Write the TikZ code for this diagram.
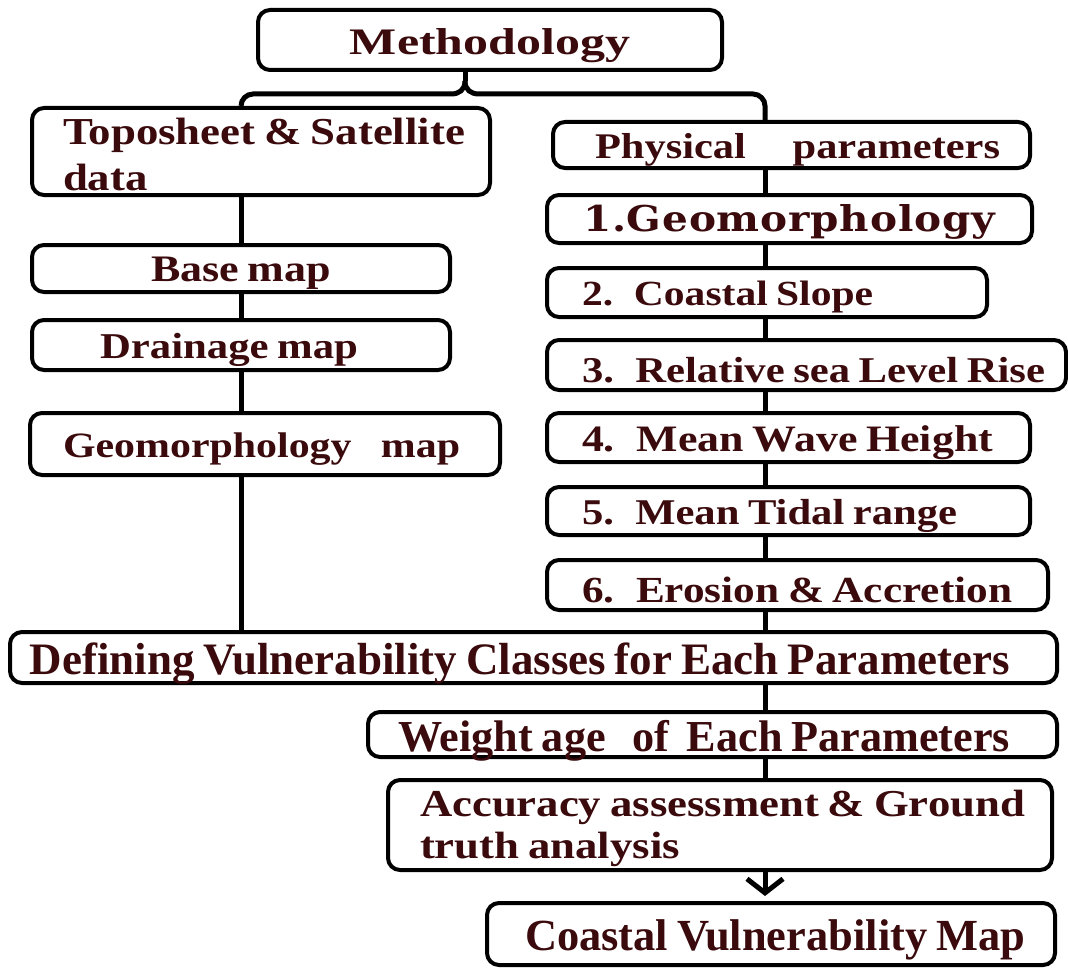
\documentclass[tikz,border=0pt]{standalone}
\usepackage{fontspec}
\setmainfont{Liberation Serif}
\newfontfamily\geofont{DejaVu Serif}[LetterSpace=2]
\usepackage{graphicx}
\usetikzlibrary{arrows.meta,calc}
\definecolor{txt}{HTML}{3A0A0C}
% #1 lowering, #2 vertical factor, #3 width, #4 text
\newcommand{\fitv}[4]{\raisebox{-#1pt}[\height][\depth]{\scalebox{1}[#2]{\resizebox{#3pt}{!}{\spaceskip=0.2em\relax #4}}}}
\newcommand{\fitw}[2]{\fitv{5}{0.85}{#1}{#2}}
\newcommand{\twoline}[3]{\vbox{\baselineskip=#1em\lineskiplimit=-100pt\hbox{#2}\hbox{#3}}}
\begin{document}
\begin{tikzpicture}[x=1pt,y=-1pt,
  box/.style={draw=black, line width=4pt, rounded corners=12pt, fill=white, text=txt,
              inner sep=0pt, font=\bfseries, align=left},
  conn/.style={line width=5pt, draw=black}]
\fill[white] (0,0) rectangle (1068,971);
\useasboundingbox (0,0) rectangle (1068,971);

% top
\node[box, align=center, minimum height=60pt, text width=464pt] (meth) at (490,40) {\fitv{6}{0.75}{280}{Methodology}};

% left column
\node[box, minimum height=87pt, text width=458pt] (topo) at (261,151.5)
  {\noindent\hspace*{31pt}\fitv{3}{0.85}{402}{\twoline{1.2}{Toposheet \& Satellite}{data}}};
\node[box, align=center, minimum height=47pt, text width=418pt] (base) at (241,268.5) {\fitw{180}{Base map}};
\node[box, minimum height=50pt, text width=418pt] (drain) at (241,345)
  {\noindent\hspace*{68pt}\fitw{258}{Drainage map}};
\node[box, minimum height=62pt, text width=470pt] (geomap) at (265,444)
  {\noindent\hspace*{33pt}\fitw{397}{Geomorphology\hspace{0.7em}map}};

% right column
\node[box, minimum height=46pt, text width=477pt] (phys) at (791.5,145)
  {\noindent\hspace*{42pt}\fitw{405}{Physical\hspace{1.1em}parameters}};
\node[box, minimum height=48pt, text width=485pt] (g1) at (789.5,219)
  {\noindent\hspace*{36pt}\raisebox{-3pt}[\height][\depth]{\resizebox{412pt}{27pt}{\geofont\bfseries 1.Geomorphology}}};
\node[box, minimum height=49pt, text width=440pt] (g2) at (767,292.5)
  {\noindent\hspace*{35pt}\fitw{291}{2. Coastal Slope}};
\node[box, minimum height=50pt, text width=519pt] (g3) at (806.5,365)
  {\noindent\hspace*{35pt}\fitw{463}{3. Relative sea Level Rise}};
\node[box, minimum height=49pt, text width=483pt] (g4) at (788.5,437.5)
  {\noindent\hspace*{35pt}\fitw{411}{4. Mean Wave Height}};
\node[box, minimum height=48pt, text width=483pt] (g5) at (788.5,511)
  {\noindent\hspace*{35pt}\fitw{375}{5. Mean Tidal range}};
\node[box, minimum height=50pt, text width=501pt] (g6) at (797.5,585)
  {\noindent\hspace*{35pt}\fitw{430}{6. Erosion \& Accretion}};

% bottom
\node[box, minimum height=51pt, text width=1047pt] (def) at (533.5,657.5)
  {\noindent\hspace*{20pt}\fitv{6}{1}{980}{Defining Vulnerability Classes for Each Parameters}};
\node[box, minimum height=45pt, text width=689pt] (wt) at (712.5,734.5)
  {\noindent\hspace*{30pt}\fitv{6}{1}{612}{Weight age\hspace{0.6em}of\hspace{0.4em}Each Parameters}};
\node[box, minimum height=90pt, text width=664pt] (acc) at (720,825)
  {\noindent\hspace*{32pt}\fitv{3}{0.85}{605}{\twoline{1.1}{Accuracy assessment \& Ground}{truth analysis}}};
\node[box, minimum height=62pt, text width=568pt] (coast) at (771,934)
  {\noindent\hspace*{38pt}\fitv{6}{1}{500}{Coastal Vulnerability Map}};

% connector guides
\coordinate (L) at (241,0);
\coordinate (R) at (765,0);

% brace from Methodology
\coordinate (bt) at ($(meth.south)+(-25,0)$);
\coordinate (bm) at ($(bt)+(0,9)$);
\coordinate (bl) at ($(bm)+(-14,13)$);
\coordinate (br) at ($(bm)+(14,13)$);
\draw[conn] (bt) -- (bm);
\draw[conn] (bm) .. controls ($(bm)+(0,9)$) and ($(bm)+(-6,13)$) .. (bl);
\draw[conn] (bm) .. controls ($(bm)+(0,9)$) and ($(bm)+(6,13)$) .. (br);
\draw[conn, rounded corners=12pt] (bl) -| (L |- topo.north);
\draw[conn, rounded corners=12pt] (br) -| (R |- phys.north);

% left chain
\draw[conn] (L |- topo.south) -- (L |- base.north);
\draw[conn] (L |- base.south) -- (L |- drain.north);
\draw[conn] (L |- drain.south) -- (L |- geomap.north);
\draw[conn] (L |- geomap.south) -- (L |- def.north);

% right chain
\draw[conn] (R |- phys.south) -- (R |- g1.north);
\draw[conn] (R |- g1.south) -- (R |- g2.north);
\draw[conn] (R |- g2.south) -- (R |- g3.north);
\draw[conn] (R |- g3.south) -- (R |- g4.north);
\draw[conn] (R |- g4.south) -- (R |- g5.north);
\draw[conn] (R |- g5.south) -- (R |- g6.north);
\draw[conn] (R |- g6.south) -- (R |- def.north);
\draw[conn] (R |- def.south) -- (R |- wt.north);
\draw[conn] (R |- wt.south) -- (R |- acc.north);
\draw[conn, shorten >=5pt, -{Straight Barb[length=14pt,width=36pt]}] (R |- acc.south) -- (R |- coast.north);
\end{tikzpicture}
\end{document}
